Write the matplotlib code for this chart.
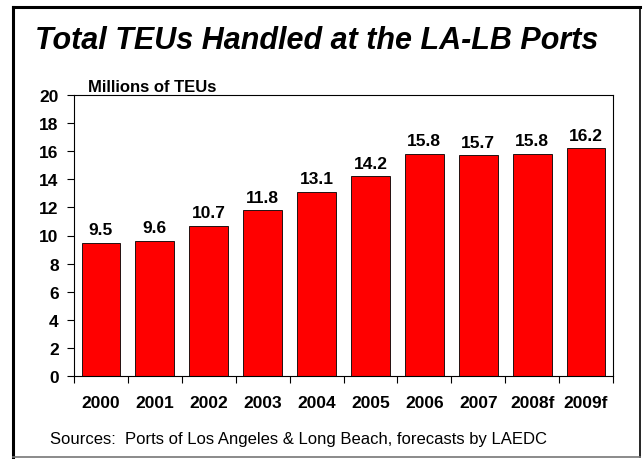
import matplotlib
matplotlib.use("Agg")
import matplotlib.pyplot as plt
from matplotlib.lines import Line2D

plt.rcParams['font.family'] = ['Liberation Sans', 'DejaVu Sans']

years = ["2000", "2001", "2002", "2003", "2004", "2005", "2006", "2007", "2008f", "2009f"]
teus = [9.5, 9.6, 10.7, 11.8, 13.1, 14.2, 15.8, 15.7, 15.8, 16.2]
y_ticks = [0, 2, 4, 6, 8, 10, 12, 14, 16, 18, 20]

fig = plt.figure(figsize=(6.43, 4.60), dpi=100)

# slide frame: heavy top/left edges, thin right/bottom edges
W, H = 643, 460
left, right, top, bottom = 12.5 / W, 640.0 / W, 1 - 8 / H, 1 - 457.5 / H
frame = [
    ((left, right), (top, top), 2.2, "black"),
    ((left, left), (bottom, top), 2.2, "black"),
    ((right, right), (bottom, top), 1.2, "black"),
    ((left, right), (bottom, bottom), 1.2, "#777777"),
]
for xs, ys, lw, c in frame:
    fig.lines.append(Line2D(xs, ys, transform=fig.transFigure, color=c, linewidth=lw))

ax = fig.add_axes([74 / W, 1 - 377 / H, (613 - 74) / W, (377 - 96) / H])

x = list(range(len(years)))
bars = ax.bar(x, teus, width=0.72, color="#ff0000", edgecolor="black", linewidth=0.6)
for xi, v in zip(x, teus):
    ax.text(xi, v + 0.4, f"{v:.1f}", ha="center", va="bottom",
            fontsize=12.5, fontweight="bold")

ax.set_xlim(-0.5, len(years) - 0.5)
ax.set_ylim(0, 20)
ax.set_yticks(y_ticks)
ax.set_yticklabels([str(t) for t in y_ticks], fontsize=12.5, fontweight="bold")

# category labels centred under bars, tick marks on the boundaries
ax.set_xticks([i - 0.5 for i in range(len(years) + 1)])
ax.set_xticklabels([])
ax.tick_params(axis="x", direction="out", length=5, width=0.8)
ax.tick_params(axis="y", direction="out", length=5, width=0.8, pad=6)
for xi, lab in zip(x, years):
    ax.text(xi, -1.9, lab, ha="center", va="center", fontsize=12.5, fontweight="bold")

for s in ax.spines.values():
    s.set_linewidth(0.8)

fig.text(317 / W, 1 - 41 / H, "Total TEUs Handled at the LA-LB Ports", ha="center", va="center",
         fontsize=22, fontweight="bold", fontstyle="italic")
fig.text(88 / W, 1 - 88 / H, "Millions of TEUs", ha="left", va="center",
         fontsize=12, fontweight="bold")
fig.text(50 / W, 1 - 440 / H, "Sources:  Ports of Los Angeles & Long Beach, forecasts by LAEDC",
         ha="left", va="center", fontsize=12)

fig.savefig("out.png", dpi=100)
